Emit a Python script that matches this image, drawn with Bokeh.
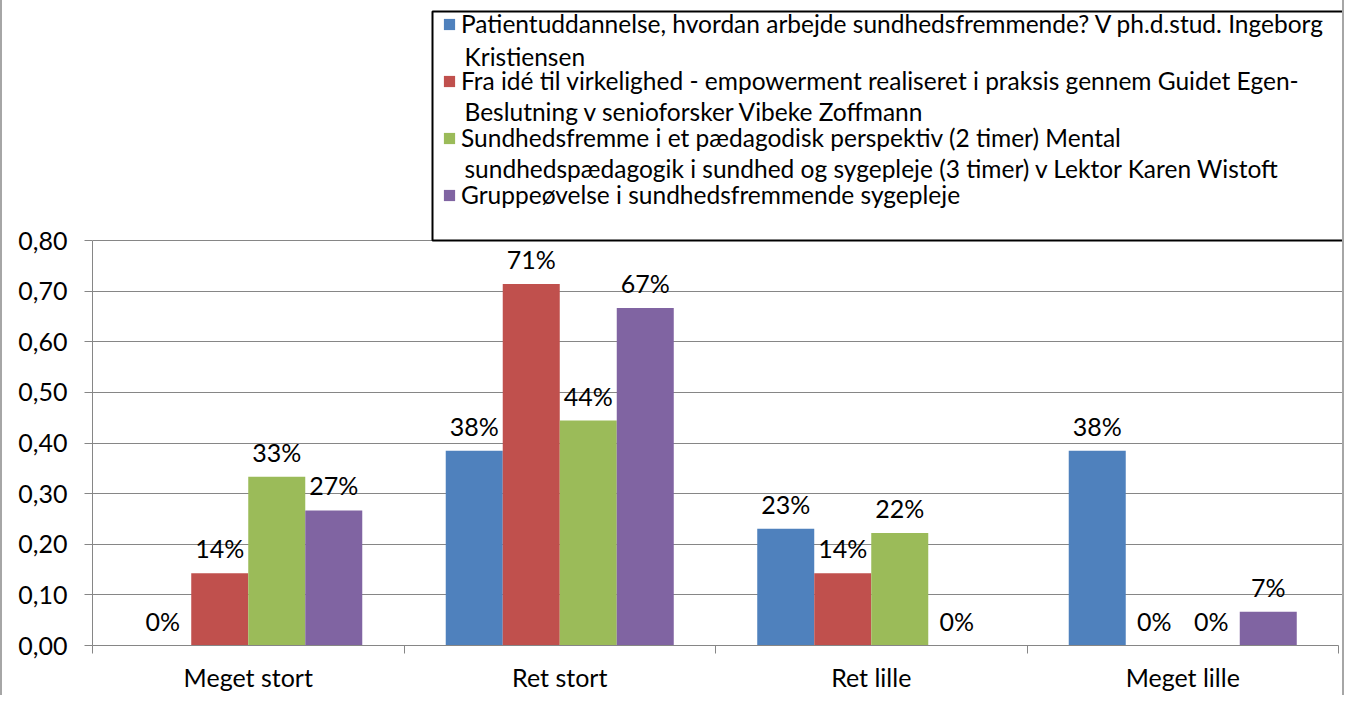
from bokeh.plotting import figure
from bokeh.models import (ColumnDataSource, FactorRange, Range1d, FixedTicker, LinearAxis,
                          CustomJSTickFormatter, LabelSet, Label, Legend, LegendItem, BoxAnnotation)
from bokeh.transform import dodge
from bokeh.core.properties import value
from bokeh.embed import file_html
from bokeh.resources import INLINE

# ---------------- data ----------------
categories = ["Meget stort", "Ret stort", "Ret lille", "Meget lille"]
series_names = [
    "Patientuddannelse, hvordan arbejde sundhedsfremmende? V ph.d.stud. Ingeborg\nKristiensen",
    "Fra idé til virkelighed - empowerment realiseret i praksis gennem Guidet Egen-\nBeslutning v senioforsker Vibeke Zoffmann",
    "Sundhedsfremme i et pædagodisk perspektiv (2 timer) Mental\nsundhedspædagogik i sundhed og sygepleje (3 timer) v Lektor Karen Wistoft",
    "Gruppeøvelse i sundhedsfremmende sygepleje",
]
patientuddannelse = [0.0, 0.3846, 0.2308, 0.3846]
empowerment = [0.1429, 0.7143, 0.1429, 0.0]
sundhedsfremme = [0.3333, 0.4444, 0.2222, 0.0]
gruppeoevelse = [0.2667, 0.6667, 0.0, 0.0667]
y_ticks = [0.0, 0.1, 0.2, 0.3, 0.4, 0.5, 0.6, 0.7, 0.8]

series_values = [patientuddannelse, empowerment, sundhedsfremme, gruppeoevelse]
colors = ["#4F81BD", "#C0504D", "#9BBB59", "#8064A2"]

FONT = "Lato"
FSIZE = "25px"
LEG_FSIZE = "24.5px"
GRAY = "#868686"

# ---------------- layout (canvas px) ----------------
W, H = 1344, 695
LEFT, BOTTOM = 90, 645          # frame left / bottom
CAT_RIGHT = 1336                # right end of the category axis
PLOT_TOP = 240                  # where 0.80 sits
y_max = y_ticks[-1]
y_end = y_max * BOTTOM / (BOTTOM - PLOT_TOP)
x_end = len(categories) * (W - LEFT) / (CAT_RIGHT - LEFT)

cat_range = FactorRange(*categories)

p = figure(width=W, height=H, x_range=Range1d(0, x_end), y_range=Range1d(0, y_end),
           x_axis_type=None, toolbar_location=None, output_backend="svg",
           min_border_left=LEFT, min_border_right=0, min_border_top=0,
           min_border_bottom=H - BOTTOM)
p.outline_line_color = None
p.background_fill_color = "white"
p.border_fill_color = "white"
p.styles = {"border-left": "2px solid #A6A6A6", "border-right": "2px solid #A6A6A6"}

# y axis
yt = FixedTicker(ticks=y_ticks)
p.yaxis.ticker = yt
p.yaxis.bounds = (y_ticks[0], y_max)
p.yaxis.formatter = CustomJSTickFormatter(code="return tick.toFixed(2).replace('.', ',');")
p.yaxis.axis_line_color = GRAY
p.yaxis.major_tick_line_color = GRAY
p.yaxis.major_tick_out = 8
p.yaxis.major_tick_in = 0
p.yaxis.minor_tick_line_color = None
p.yaxis.major_label_standoff = 17
p.yaxis.major_label_text_font = FONT
p.yaxis.major_label_text_font_size = FSIZE
p.yaxis.major_label_text_color = "black"
p.ygrid.ticker = yt
p.ygrid.grid_line_color = GRAY
p.ygrid.grid_line_width = 1

# x axis: labels at category centres, tick marks at category boundaries
centres = [i + 0.5 for i in range(len(categories))]
bounds = [i for i in range(len(categories) + 1)]
xaxis = LinearAxis(ticker=FixedTicker(ticks=centres, minor_ticks=bounds),
                   formatter=CustomJSTickFormatter(args=dict(labels=categories),
                                                   code="return labels[Math.floor(tick)];"),
                   bounds=(0, len(categories)))
xaxis.axis_line_color = GRAY
xaxis.major_tick_line_color = None
xaxis.major_tick_out = 0
xaxis.major_tick_in = 0
xaxis.minor_tick_line_color = GRAY
xaxis.minor_tick_out = 8
xaxis.minor_tick_in = 0
xaxis.major_label_standoff = 8
xaxis.major_label_text_font = FONT
xaxis.major_label_text_font_size = FSIZE
xaxis.major_label_text_color = "black"
p.add_layout(xaxis, "below")

bar_w = 0.183
offsets = [(-1.5 + i) * bar_w for i in range(4)]

items = []
for i, vals in enumerate(series_values):
    src = ColumnDataSource(dict(cat=categories, val=vals, lbl=[f"{v:.0%}" for v in vals]))
    r = p.vbar(x=dodge("cat", offsets[i], range=cat_range), top="val", width=bar_w,
               source=src, fill_color=colors[i], line_color=None)
    labels = LabelSet(x=dodge("cat", offsets[i], range=cat_range), y="val", text="lbl",
                      source=src, y_offset=25, text_align="center", text_baseline="middle",
                      text_font=value(FONT), text_font_size=FSIZE, text_color="black")
    p.add_layout(labels)
    items.append(LegendItem(label=series_names[i].split("\n")[0], renderers=[r]))

# legend frame
p.add_layout(BoxAnnotation(left=428, right=W - 1, top=11, bottom=PLOT_TOP,
                           left_units="canvas", right_units="canvas",
                           top_units="canvas", bottom_units="canvas",
                           fill_color="white", fill_alpha=1,
                           line_color="black", line_alpha=1, line_width=2))

ITEM_H = 57
legend = Legend(items=items, location=(440 - LEFT, BOTTOM - 223), border_line_color=None,
                background_fill_alpha=0, padding=0, margin=0, spacing=0,
                glyph_width=14, glyph_height=14, label_standoff=5, label_height=ITEM_H,
                label_text_font=FONT, label_text_font_size=LEG_FSIZE,
                label_text_color="black")
p.add_layout(legend)

# wrapped continuation lines of the legend entries
first_line_y = [25, 80, 137, 195]
for i, name in enumerate(series_names):
    for k, line in enumerate(name.split("\n")[1:], start=1):
        p.add_layout(Label(x=460, y=first_line_y[i] + 31 * k, x_units="canvas", y_units="canvas",
                           text=line, text_font=FONT, text_font_size=LEG_FSIZE,
                           text_baseline="middle", text_align="left", text_color="black"))

open("out.html", "w").write(file_html(p, INLINE))
